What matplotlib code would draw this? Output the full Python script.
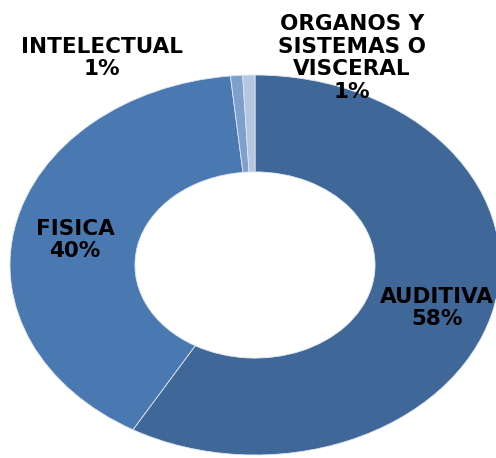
import matplotlib
matplotlib.use("Agg")
import matplotlib.pyplot as plt

categories = ["AUDITIVA", "FISICA", "INTELECTUAL", "ORGANOS Y\nSISTEMAS O\nVISCERAL"]
values = [58.3, 40.1, 0.8, 0.8]
pct_labels = ["58%", "40%", "1%", "1%"]
colors = ["#3f6797", "#4a79b1", "#7f9fcc", "#b5c6e1"]

plt.rcParams['font.family'] = ['DejaVu Sans']

fig = plt.figure(figsize=(4.96, 4.58), dpi=100)
# elliptical donut: axes box spans the ring, aspect left free
ax = fig.add_axes([10 / 496, 3 / 458, 490 / 496, 380 / 458])
ax.pie(values, colors=colors, startangle=90, counterclock=False,
       wedgeprops=dict(width=0.51, edgecolor="#dfe6f0", linewidth=0.6))
ax.set_aspect('auto')
ax.set_xlim(-1, 1)
ax.set_ylim(-1, 1)

# label positions (axes fraction)
label_pos = [(0.871, 0.387), (0.133, 0.566), (0.188, 1.045), (0.698, 1.045)]
for cat, pct, (x, y) in zip(categories, pct_labels, label_pos):
    ax.text(x, y, cat + "\n" + pct, transform=ax.transAxes, ha="center",
            va="center", fontsize=15.5, fontweight="bold", color="black",
            linespacing=1.16, clip_on=False)

fig.savefig("out.png", dpi=100)
